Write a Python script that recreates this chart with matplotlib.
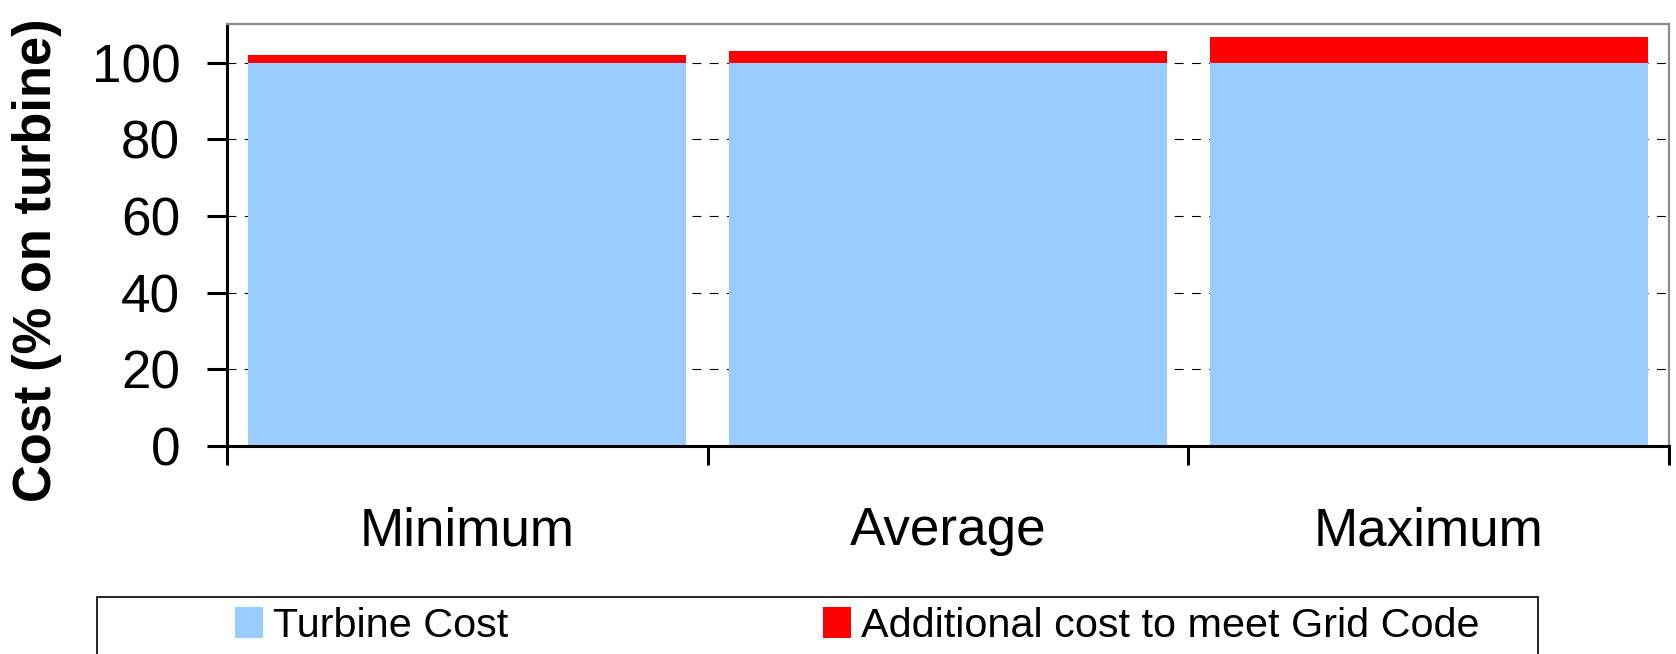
import matplotlib
matplotlib.use("Agg")
import matplotlib.pyplot as plt
from matplotlib.patches import Rectangle, Patch
from matplotlib import font_manager

# --- data -------------------------------------------------------------
categories = ["Minimum", "Average", "Maximum"]
turbine_cost = [100, 100, 100]
grid_code_cost = [2.0, 3.0, 6.6]
y_ticks = [0, 20, 40, 60, 80, 100]
legend_labels = ["Turbine Cost", "Additional cost to meet Grid Code"]

# --- style ------------------------------------------------------------
W, H, DPI = 1676, 654, 100
BLUE = "#99CCFF"
RED = "#FF0000"
BASE_FONT = "Liberation Sans"
names = {f.name for f in font_manager.fontManager.ttflist}
NARROW = ["Liberation Sans Narrow", BASE_FONT] if "Liberation Sans Narrow" in names else [BASE_FONT]

plt.rcParams["font.family"] = [BASE_FONT, "DejaVu Sans"]

fig = plt.figure(figsize=(W / DPI, H / DPI), dpi=DPI)
ax_left, ax_right = 226.7, 1669.3
ax_top, ax_bottom = 24.3, 446.0
ax = fig.add_axes([ax_left / W, 1 - ax_bottom / H,
                   (ax_right - ax_left) / W, (ax_bottom - ax_top) / H])

x = list(range(len(categories)))
bar_w = 0.911
b1 = ax.bar(x, turbine_cost, width=bar_w, color=BLUE, linewidth=0, zorder=2)
b2 = ax.bar(x, grid_code_cost, width=bar_w, bottom=turbine_cost, color=RED,
            linewidth=0, zorder=2)

ax.set_xlim(-0.5, len(categories) - 0.5)
ax.set_ylim(0, 110)

# y axis
ax.set_yticks(y_ticks)
ax.set_yticklabels([str(v) for v in y_ticks])
ax.tick_params(axis="y", direction="out", length=14.4, width=2.2,
               labelsize=38.2, pad=19)
ax.yaxis.grid(True, linestyle=(0, (8, 7.5)), linewidth=0.8, color="black")
# no gridline on the baseline
ax.get_ygridlines()[0].set_visible(False)
ax.set_axisbelow(True)

# x axis: tick marks between categories, labels centred under bars
ax.set_xticks([i - 0.5 for i in range(len(categories) + 1)])
ax.set_xticklabels([])
ax.set_xticks(x, minor=True)
ax.set_xticklabels(categories, minor=True)
ax.tick_params(axis="x", which="major", direction="out", length=13.7, width=2.2)
ax.tick_params(axis="x", which="minor", length=0, labelsize=38.2, pad=43.5)

# frame
for side in ("left", "bottom"):
    ax.spines[side].set_color("black")
    ax.spines[side].set_linewidth(2.2)
for side in ("top", "right"):
    ax.spines[side].set_color("#8C8C8C")
    ax.spines[side].set_linewidth(1.6)

ax.set_ylabel("Cost (% on turbine)", fontsize=37.8, fontweight="bold")
ax.yaxis.label.set_va("center")
ax.yaxis.set_label_coords((37.5 - ax_left) / (ax_right - ax_left),
                          (ax_bottom - 260) / (ax_bottom - ax_top))

# legend: outlined box running off the bottom edge, two entries
fig.add_artist(Rectangle((97 / W, -0.2), (1538 - 97) / W, 0.2 + 1 - 596.5 / H,
                         transform=fig.transFigure, facecolor="white",
                         edgecolor="black", linewidth=1.2, zorder=0))
handles = [Patch(facecolor=BLUE, linewidth=0), Patch(facecolor=RED, linewidth=0)]
leg_font = {"family": NARROW, "size": 35 if len(NARROW) > 1 else 29.8}
for handle, label, x0 in zip(handles, legend_labels, (235, 823)):
    fig.legend([handle], [label], loc="center left",
               bbox_to_anchor=(x0 / W, 1 - 626 / H),
               frameon=False, prop=leg_font, borderpad=0, borderaxespad=0,
               handlelength=0.58 * 48 / (leg_font["size"] / 0.72),
               handleheight=0.65 * 48 / (leg_font["size"] / 0.72),
               handletextpad=0.25)

fig.savefig("out.png", dpi=DPI)
